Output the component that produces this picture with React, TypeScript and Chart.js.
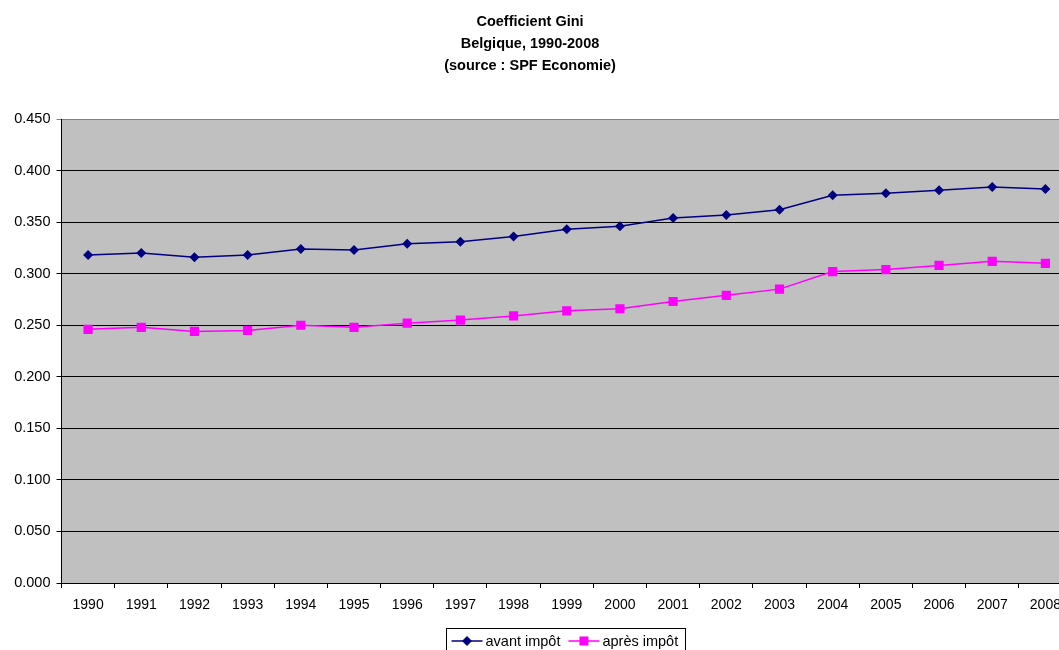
import React, { useEffect, useRef } from "react";
import { Chart, registerables } from "chart.js";

Chart.register(...registerables);

const years = ["1990","1991","1992","1993","1994","1995","1996","1997","1998","1999","2000","2001","2002","2003","2004","2005","2006","2007","2008"];
const avantImpot = [0.318,0.320,0.316,0.318,0.324,0.323,0.329,0.331,0.336,0.343,0.346,0.354,0.357,0.362,0.376,0.378,0.381,0.384,0.382];
const apresImpot = [0.246,0.248,0.244,0.245,0.250,0.248,0.252,0.255,0.259,0.264,0.266,0.273,0.279,0.285,0.302,0.304,0.308,0.312,0.310];
const titleLines = ["Coefficient Gini", "Belgique, 1990-2008", "(source : SPF Economie)"];

const FONT = "'Liberation Sans', Arial, sans-serif";

const decorPlugin = {
  id: "decor",
  beforeDraw(chart: any) {
    const { ctx, chartArea } = chart;
    ctx.save();
    ctx.fillStyle = "#ffffff";
    ctx.fillRect(0, 0, chart.width, chart.height);
    ctx.fillStyle = "#C0C0C0";
    ctx.fillRect(chartArea.left, chartArea.top, chartArea.right - chartArea.left, chartArea.bottom - chartArea.top);
    ctx.restore();
  },
  afterDraw(chart: any) {
    const { ctx } = chart;
    ctx.save();
    // title
    ctx.fillStyle = "#000";
    ctx.font = `bold 14.5px ${FONT}`;
    ctx.textAlign = "center";
    ctx.textBaseline = "middle";
    const ys = [22, 44, 66];
    titleLines.forEach((t, i) => ctx.fillText(t, 530, ys[i]));

    // legend
    ctx.font = `14.5px ${FONT}`;
    ctx.textAlign = "left";
    const ds = chart.data.datasets;
    const lineLen = 31;
    const gapText = 3;
    const gapItem = 8;
    const padL = 5;
    const padR = 7;
    let total = padL + padR;
    ds.forEach((d: any, i: number) => {
      total += lineLen + gapText + ctx.measureText(d.label).width;
      if (i < ds.length - 1) total += gapItem;
    });
    total = Math.round(total);
    const cx = (chart.chartArea.left + chart.chartArea.right) / 2;
    const bx = Math.round(cx - total / 2) - 0.5;
    const by = 628.5;
    ctx.fillStyle = "#fff";
    ctx.fillRect(bx, by, total, 30);
    ctx.strokeStyle = "#000";
    ctx.lineWidth = 1;
    ctx.strokeRect(bx, by, total, 30);
    let x = bx + padL;
    const ly = 641;
    ds.forEach((d: any) => {
      ctx.strokeStyle = d.borderColor;
      ctx.lineWidth = 1.5;
      ctx.beginPath();
      ctx.moveTo(x, ly);
      ctx.lineTo(x + lineLen, ly);
      ctx.stroke();
      ctx.fillStyle = d.pointBackgroundColor;
      const mx = x + lineLen / 2;
      ctx.beginPath();
      if (d.pointStyle === "rectRot") {
        const r = 5;
        ctx.moveTo(mx - r, ly);
        ctx.lineTo(mx, ly - r);
        ctx.lineTo(mx + r, ly);
        ctx.lineTo(mx, ly + r);
        ctx.closePath();
      } else {
        ctx.rect(mx - 4.5, ly - 4.5, 9, 9);
      }
      ctx.fill();
      x += lineLen + gapText;
      ctx.fillStyle = "#000";
      ctx.fillText(d.label, x, ly + 1);
      x += ctx.measureText(d.label).width + gapItem;
    });
    ctx.restore();
  },
};

export default function App() {
  const ref = useRef<HTMLCanvasElement | null>(null);
  useEffect(() => {
    if (!ref.current) return;
    const chart = new Chart(ref.current, {
      type: "line",
      data: {
        labels: years,
        datasets: [
          {
            label: "avant impôt",
            data: avantImpot,
            borderColor: "#000080",
            backgroundColor: "#000080",
            pointBackgroundColor: "#000080",
            pointBorderColor: "#000080",
            pointStyle: "rectRot",
            pointRadius: 5,
            pointBorderWidth: 0,
            borderWidth: 1.5,
            tension: 0,
          },
          {
            label: "après impôt",
            data: apresImpot,
            borderColor: "#FF00FF",
            backgroundColor: "#FF00FF",
            pointBackgroundColor: "#FF00FF",
            pointBorderColor: "#FF00FF",
            pointStyle: "rect",
            pointRadius: 6.5,
            pointBorderWidth: 0,
            borderWidth: 1.5,
            tension: 0,
          },
        ],
      },
      options: {
        animation: false,
        responsive: false,
        devicePixelRatio: 1,
        layout: { padding: { top: 119, left: 0, right: 8, bottom: 37 } },
        plugins: {
          legend: { display: false },
          title: { display: false },
          tooltip: { enabled: false },
        },
        scales: {
          x: {
            type: "category",
            offset: true,
            grid: {
              display: true,
              drawOnChartArea: false,
              drawTicks: true,
              tickLength: 5,
              offset: true,
              color: "#000",
            },
            border: { display: true, color: "#000", width: 1 },
            ticks: {
              color: "#000",
              font: { family: FONT, size: 14 },
              padding: 9,
              maxRotation: 0,
              autoSkip: false,
            },
            afterFit: (s: any) => {
              s.height = 30;
            },
          },
          y: {
            min: 0,
            max: 0.45,
            grid: {
              color: (c: any) => (c.tick && Math.abs(c.tick.value - 0.45) < 1e-9 ? "#808080" : "#000"),
              lineWidth: 1,
              drawTicks: true,
              tickLength: 5,
            },
            border: { display: true, color: "#000", width: 1 },
            ticks: {
              stepSize: 0.05,
              color: "#000",
              font: { family: FONT, size: 14.5 },
              padding: 6,
              callback: (v: any) => Number(v).toFixed(3),
            },
            afterFit: (s: any) => {
              s.width = 61.5;
            },
          },
        },
      },
      plugins: [decorPlugin],
    });
    return () => chart.destroy();
  }, []);
  return (
    <div style={{ position: "absolute", left: 0, top: 0, width: 1059, height: 650, overflow: "hidden", background: "#fff" }}>
      <canvas ref={ref} width={1080} height={650} style={{ width: 1080, height: 650, display: "block" }} />
    </div>
  );
}
